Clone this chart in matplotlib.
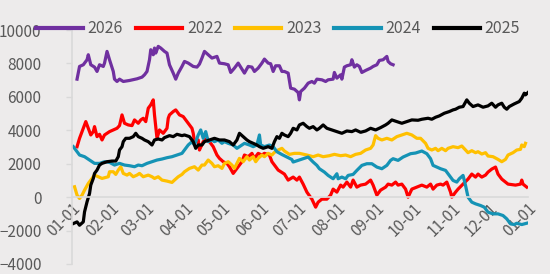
"""seasonal spread chart, one line per year"""

import numpy as np;
import matplotlib;
matplotlib.use("Agg");
import matplotlib.pyplot as plt;
import matplotlib.dates as mdates;

plt.rcParams["font.family"] = ["Noto Sans CJK SC", "DejaVu Sans"];

# days counted from 01-01
day2026 = [4, 6, 9, 12, 13, 15, 18, 20, 22, 25, 26, 28, 30, 33, 34, 36, 38, 41, 46, 52,
           56, 58, 60, 62, 63, 65, 66, 67, 69, 71, 74, 76, 78, 81, 83, 85, 88, 90, 93,
           97, 100, 102, 104, 106, 109, 112, 116, 118, 122, 125, 127, 130, 133, 136, 138, 141, 144, 146, 149,
           152, 154, 157, 159, 161, 163, 166, 168, 170, 173, 175, 178, 181, 182, 183, 186,
           189, 192, 194, 196, 200, 203, 205, 209, 210, 212, 215, 216, 218, 220, 223, 224, 226, 228, 230, 232,
           235, 239, 241, 244, 246, 249, 252, 253, 255, 257];
val2026 = [7060, 7820, 7920, 8220, 8520, 7920, 7780, 7520, 7920, 7820, 8020, 8720, 8220, 7520, 7060, 6920, 7060, 6920, 6980, 7080,
           7180, 7320, 7520, 8220, 8820, 8520, 8920, 8620, 9020, 8920, 8720, 8620, 7920, 7420, 7060, 7420, 7820, 8120, 8020,
           7820, 7780, 7960, 8320, 8720, 8520, 8320, 8420, 8020, 7980, 7920, 7460, 7720, 8020, 7660, 7420, 7820, 7780, 7520, 7720,
           8020, 8260, 8020, 7980, 7520, 7860, 7860, 7520, 7520, 7420, 6520, 6460, 6260, 5820, 6320, 6520,
           6820, 6920, 6820, 7060, 7020, 6920, 7020, 7060, 7460, 7120, 7320, 7060, 7780, 7860, 7920, 8220, 7780, 7920, 7820, 7460,
           7580, 7720, 7820, 7920, 8180, 8220, 8420, 8120, 7980, 7920];

day2022 = [4, 6, 8, 10, 11, 13, 15, 17, 18, 20, 22, 24, 26, 30, 36, 38, 40, 42, 45, 48,
           50, 53, 55, 57, 59, 61, 63, 65, 66, 68, 70, 73, 76, 77, 78, 81, 83, 86, 89, 92, 94,
           96, 97, 98, 101, 102, 105, 108, 110, 113, 116, 118, 121, 124, 126, 129, 131, 133, 136, 138, 141,
           144, 146, 149, 152, 154, 158, 160,
           162, 165, 170, 173, 177, 180, 182, 185, 188, 192, 195, 197, 200, 204, 207, 209, 212, 215, 217, 220,
           223, 225, 228, 231, 235, 239, 241, 244, 247, 251, 253, 256, 259, 261, 264, 267, 269, 272, 276, 280,
           284, 287, 289, 292, 295, 297, 300, 303, 304, 307, 309, 313, 317, 320, 323, 325, 328, 331, 333, 336,
           339, 341, 344, 349, 355, 359, 360, 361, 364];
val2022 = [3020, 3520, 3920, 4320, 4520, 4120, 3720, 3920, 4220, 3620, 3760, 3420, 3720, 3920, 4120, 4280, 4920, 4420, 4320, 4280,
           4620, 4420, 4620, 4720, 4520, 5320, 5520, 5820, 4920, 3520, 4020, 3820, 4120, 4720, 4920, 5120, 5220, 4920, 4820, 4520, 4320,
           4120, 3820, 3320, 3420, 2820, 3320, 3520, 3320, 3020, 2520, 2320, 2120, 2020, 1820, 1420, 1620, 1820, 2120, 2520, 2420,
           2620, 2320, 2620, 2520, 2620, 2520, 2120,
           1920, 1620, 1380, 1020, 1200, 1020, 1200, 780, 300, -120, -600, -300, -120, -120, 120, 480, 300, 720, 600, 900,
           600, 1020, 600, 720, 780, 1020, 720, 120, 420, 600, 780, 720, 900, 720, 780, 480, 0, 480, 600, 720,
           600, 780, 480, 720, 780, 720, 900, 300, 0, 300, 480, 780, 1080, 1380, 1200, 1380, 1200, 1320, 1500, 1680,
           1800, 1380, 1080, 780, 720, 780, 1020, 780, 600];

day2023 = [2, 4, 6, 8, 10, 13, 14, 16, 18, 21, 24, 26, 29, 30, 33, 35, 37, 39, 41, 44,
           46, 49, 52, 54, 57, 61, 64, 66, 69, 72, 76, 80, 82, 85, 88, 90, 94,
           98, 101, 104, 106, 109, 112, 114, 117, 120, 122, 125, 128, 130, 132, 134, 137, 140, 142, 145, 147,
           149, 152, 154, 157, 160, 162, 165, 168, 170, 174, 178,
           182, 188, 193, 197, 201, 206, 210, 215, 219, 223, 227, 231, 235, 239, 241, 243, 245, 248, 252, 256,
           260, 264, 268, 272, 276,
           279, 283, 285, 288, 291, 293, 296, 299, 301, 305, 309, 312, 315, 317, 320, 323, 325, 328, 331, 333,
           337, 341, 344, 347, 349, 353, 356, 359, 360, 362, 363];
val2023 = [620, 120, -80, 120, 420, 820, 920, 1120, 1320, 1220, 1120, 1160, 1220, 1520, 1520, 1360, 1620, 1820, 1420, 1320,
           1420, 1220, 1320, 1420, 1220, 1320, 1220, 1120, 1220, 1020, 960, 880, 1020, 1220, 1360, 1520, 1720,
           1820, 1620, 1920, 1920, 2220, 2020, 1820, 1880, 1720, 2020, 2120, 1920, 1720, 2020, 2320, 2120, 2420, 2220, 2420, 2120,
           2320, 2520, 2420, 2620, 2520, 2680, 2820, 2920, 2760, 2560, 2620,
           2620, 2520, 2420, 2520, 2420, 2480, 2560, 2480, 2520, 2420, 2560, 2620, 2820, 2920, 3120, 3680, 3520, 3420, 3520, 3420,
           3620, 3720, 3820, 3720, 3520,
           3520, 3220, 2920, 2820, 2920, 2780, 2920, 2780, 2920, 3020, 2960, 3060, 2820, 2660, 2780, 2660, 2720, 2580, 2660, 2460,
           2420, 2260, 2120, 2260, 2520, 2660, 2820, 2860, 3120, 3020, 3220];

day2024 = [1, 4, 6, 10, 14, 18, 22, 26, 30, 34, 38, 42, 46, 50, 53, 56, 60, 64, 68, 72,
           76, 80, 84, 88, 90,
           93, 96, 98, 101, 103, 105, 107, 109, 112, 114, 117, 120, 122, 125, 129, 132, 136, 138, 142, 145,
           148, 150, 151, 154, 158, 161,
           164, 168, 172, 176, 177, 181, 185, 189, 193, 196, 198, 202, 205, 209, 212, 213, 216, 219, 221, 225,
           228, 232, 236, 240, 244, 248, 252, 255, 257, 261, 265, 268, 271, 275, 280, 284, 287, 289, 292, 295,
           299, 301, 305, 308, 310, 313, 315, 317, 320, 323, 327, 330, 333, 337, 341, 345, 348, 351, 354, 356,
           360, 364];
val2024 = [3020, 2720, 2520, 2420, 2220, 2020, 2020, 2120, 2080, 1920, 2020, 1920, 1880, 1820, 1920, 1880, 2020, 2120, 2220, 2280,
           2360, 2420, 2520, 2620, 2820,
           3120, 3320, 3120, 3720, 4020, 3520, 3920, 3320, 3420, 3320, 3420, 3220, 3320, 3220, 3120, 2920, 3120, 3220, 3120, 3020,
           3120, 3720, 3120, 3020, 3120, 3020,
           2720, 2550, 2400, 2250, 2100, 2200, 2300, 2400, 2100, 1900, 1700, 1500, 1300, 1100, 1400, 1100, 1200, 1100, 1300, 1360,
           1600, 1900, 2000, 2000, 1800, 1700, 1900, 2200, 2300, 2200, 2400, 2500, 2600, 2640, 2760, 2600, 2300, 1900, 1800, 1700,
           1600, 1400, 1000, 900, 1100, 1300, 700, 0, -300, -400, -500, -600, -900, -1000, -1000, -1100, -1300, -1600, -1640, -1560,
           -1640, -1560];

day2025 = [1, 4, 6, 9, 10, 12, 14, 15, 17, 18, 20, 22, 24, 28, 32, 35, 37, 38, 40, 41,
           43, 46, 49, 51, 53, 56, 58, 61, 64, 66, 69, 72, 74, 78, 81, 84, 88, 90, 94,
           97, 99, 101, 104, 106, 110, 114, 118, 122, 126, 129, 132, 134, 137, 140, 142, 145, 148, 150, 153,
           157, 160, 162, 164, 166, 168, 170, 173, 175, 177, 180, 182, 185,
           188, 190, 193, 196, 198, 201, 204, 208, 212, 216, 220, 224, 227, 231, 235, 239, 243, 247, 251, 253,
           256, 260, 264, 268, 272,
           277, 280, 285, 288, 291, 294, 298, 302, 305, 307, 310, 313, 316, 318, 321, 325, 329, 333, 336, 339,
           341, 344, 346, 348, 350, 354, 358, 360, 362, 363, 365];
val2025 = [-1580, -1480, -1680, -1480, -880, -280, 220, 720, 1120, 1420, 1620, 1920, 2020, 2120, 2160, 2160, 2420, 2820, 3020, 3320,
           3520, 3520, 3620, 3820, 3620, 3520, 3420, 3320, 3120, 3420, 3480, 3420, 3560, 3680, 3620, 3760, 3680, 3720, 3620,
           3320, 2920, 3120, 3120, 3320, 3420, 3520, 3420, 3420, 3320, 3120, 3420, 3820, 3620, 3420, 3320, 3220, 3120, 3020, 2920,
           3020, 2920, 3320, 3620, 3520, 3820, 3720, 3620, 3820, 4120, 4020, 4320, 4420,
           4220, 4120, 4220, 4020, 4120, 4320, 4120, 4020, 3920, 3820, 3960, 3920, 4020, 3880, 3960, 4120, 4020, 4160, 4320, 4420,
           4620, 4520, 4420, 4520, 4620,
           4600, 4660, 4720, 4660, 4780, 4860, 5020, 5120, 5220, 5260, 5380, 5420, 5820, 5620, 5420, 5520, 5380, 5460, 5620, 5380,
           5520, 5620, 5380, 5260, 5420, 5580, 5720, 5920, 6220, 6120, 6260];

years = ["2022", "2023", "2024", "2025", "2026"];
days = [day2022, day2023, day2024, day2025, day2026];
vals = [val2022, val2023, val2024, val2025, val2026];
colors = ["#FF0000", "#FFC000", "#1593B5", "#000000", "#7030A0"];

bg = "#EDEBEB";
txt = "#595959";
grid = "#D9D9D9";
start = np.datetime64("2025-01-01");

fig = plt.figure(figsize=(5.5, 2.74), dpi=100);
fig.patch.set_facecolor(bg);
ax = fig.add_axes([0.131, 0.0365, 0.829, 0.854]);
ax.set_facecolor(bg);

lines = {};
for yr, d, v, c in zip(years, days, vals, colors):
    x = start + np.array(d).astype("timedelta64[D]");
    lines[yr], = ax.plot(x, v, color=c, lw=2.3, solid_joinstyle="round");

ax.set_ylim(-4000, 10000);
ax.set_yticks(np.arange(-4000, 10001, 2000));
ax.set_xlim(start, np.datetime64("2026-01-01"));
ax.xaxis.set_major_locator(mdates.MonthLocator());
ax.xaxis.set_major_formatter(mdates.DateFormatter("%m-%d"));

for s in ["top", "right"]:
    ax.spines[s].set_visible(False);
ax.spines["bottom"].set_position(("data", 0));
ax.spines["bottom"].set_color(grid);
ax.spines["bottom"].set_linewidth(1.2);
ax.spines["left"].set_color(grid);
ax.spines["left"].set_linewidth(1.2);

ax.tick_params(axis="y", colors=grid, length=4, width=1, pad=18, labelsize=11, labelcolor=txt);
ax.tick_params(axis="x", length=0, pad=2, labelsize=11, labelcolor=txt);
for lab in ax.get_xticklabels():
    lab.set_rotation(45);
    lab.set_ha("right");
    lab.set_va("top");
    lab.set_rotation_mode("anchor");

order = ["2026", "2022", "2023", "2024", "2025"];
leg = fig.legend([lines[k] for k in order], order, loc="center", bbox_to_anchor=(0.506, 0.895),
                 ncol=5, frameon=False, fontsize=11.5, handlelength=2.9, handletextpad=0.3,
                 columnspacing=0.8, borderpad=0);
for t in leg.get_texts():
    t.set_color(txt);
for h in leg.legend_handles:
    h.set_linewidth(3);

fig.savefig("out.png", dpi=100, facecolor=bg);
